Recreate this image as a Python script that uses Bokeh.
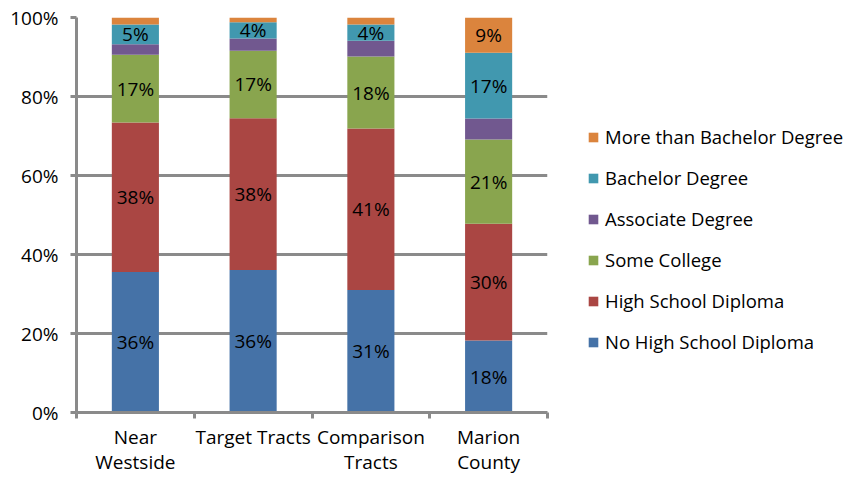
from bokeh.plotting import figure
from bokeh.layouts import row
from bokeh.models import (ColumnDataSource, Range1d, FixedTicker, Legend, LegendItem,
                          LabelSet)
from bokeh.core.properties import value
from bokeh.embed import file_html
from bokeh.resources import INLINE

# Educational attainment shares (%) by area
areas = ["Near\nWestside", "Target Tracts", "Comparison\nTracts", "Marion\nCounty"]
no_hs_diploma = [35.6, 36.1, 31.0, 18.2]
hs_diploma = [37.8, 38.4, 40.9, 29.6]
some_college = [17.2, 17.1, 18.2, 21.3]
associate = [2.6, 3.1, 4.0, 5.3]
bachelor = [5.0, 4.1, 4.1, 16.7]
more_than_bachelor = [1.8, 1.2, 1.8, 8.9]

series_names = ["No High School Diploma", "High School Diploma", "Some College",
                "Associate Degree", "Bachelor Degree", "More than Bachelor Degree"]
series_values = [no_hs_diploma, hs_diploma, some_college, associate, bachelor,
                 more_than_bachelor]
series_colors = ["#4572A7", "#AA4643", "#89A54E", "#71588F", "#4198AF", "#DB843D"]
# which series carry value labels on which bars
series_labelled = [
    [True, True, True, True],
    [True, True, True, True],
    [True, True, True, True],
    [False, False, False, False],
    [True, True, True, True],
    [False, False, False, True],
]

FONT = "Open Sans"
GRAY = "#8a8a8a"

x = [i + 0.5 for i in range(len(areas))]

p = figure(width=560, height=477, output_backend="svg", toolbar_location=None,
           x_range=Range1d(0, len(areas)), y_range=Range1d(0, 100),
           min_border_left=76, min_border_right=13, min_border_top=17,
           min_border_bottom=65)
p.outline_line_color = None
p.background_fill_color = "white"
p.border_fill_color = "white"

# legend panel beside the chart; its swatch renderers share the bar data but are
# hidden, so only their legend entries show
lg = figure(width=286, height=477, output_backend="svg", toolbar_location=None,
            x_range=Range1d(0, 1), y_range=Range1d(0, 1),
            x_axis_type=None, y_axis_type=None, min_border=0)
lg.outline_line_color = None
lg.grid.visible = False

swatches = []
bottom = [0.0] * len(areas)
for name, vals, color, lab in zip(series_names, series_values, series_colors,
                                  series_labelled):
    top = [b + v for b, v in zip(bottom, vals)]
    src = ColumnDataSource(dict(
        x=x, bottom=bottom, top=top,
        mid=[(b + t) / 2 for b, t in zip(bottom, top)],
        label=[f"{round(v)}%" if show else "" for v, show in zip(vals, lab)],
    ))
    p.vbar(x="x", bottom="bottom", top="top", width=0.4, source=src,
           fill_color=color, line_color=None)
    p.add_layout(LabelSet(x="x", y="mid", text="label", source=src,
                          text_align="center", text_baseline="middle",
                          text_font=value(FONT), text_font_size="19px",
                          text_color="black"))
    swatches.append(lg.vbar(x="x", bottom="bottom", top="top", width=0.4,
                            source=src, fill_color=color, line_color=None,
                            visible=False))
    bottom = top

# grid
p.xgrid.visible = False
p.ygrid.ticker = FixedTicker(ticks=[0, 20, 40, 60, 80, 100])
p.ygrid.grid_line_color = GRAY
p.ygrid.grid_line_width = 3

# y axis
yax = p.yaxis[0]
yax.ticker = FixedTicker(ticks=[0, 20, 40, 60, 80, 100])
yax.major_label_overrides = {v: f"{v}%" for v in [0, 20, 40, 60, 80, 100]}
yax.axis_line_color = GRAY
yax.axis_line_width = 3
yax.major_tick_line_color = GRAY
yax.major_tick_line_width = 3
yax.major_tick_out = 6
yax.major_tick_in = 0
yax.minor_tick_line_color = None
yax.major_label_standoff = 12
yax.major_label_text_font = FONT
yax.major_label_text_font_size = "19px"
yax.major_label_text_color = "black"

# x axis: labels at bar centres, tick marks at category boundaries
xax = p.xaxis[0]
xax.ticker = FixedTicker(ticks=x, minor_ticks=list(range(len(areas) + 1)))
xax.major_label_overrides = {xi: a for xi, a in zip(x, areas)}
xax.axis_line_color = GRAY
xax.axis_line_width = 3
xax.major_tick_line_color = None
xax.major_tick_out = 0
xax.major_tick_in = 0
xax.minor_tick_line_color = GRAY
xax.minor_tick_line_width = 3
xax.minor_tick_out = 6
xax.minor_tick_in = 0
xax.major_label_standoff = 5
xax.major_label_text_font = FONT
xax.major_label_text_font_size = "19px"
xax.major_label_text_line_height = 0.98
xax.major_label_text_color = "black"

legend = Legend(
    items=[LegendItem(label=n, renderers=[r])
           for n, r in reversed(list(zip(series_names, swatches)))],
    location=(27, 58), orientation="vertical",
    glyph_width=12, glyph_height=12, label_height=20, label_standoff=6,
    spacing=16, padding=0, margin=0, border_line_color=None,
    background_fill_alpha=0, inactive_fill_alpha=0,
    label_text_font=FONT, label_text_font_size="18.5px",
    label_text_color="black", label_text_baseline="middle",
)
lg.add_layout(legend, "center")

open("out.html", "w").write(file_html(row(p, lg, spacing=0), INLINE))
